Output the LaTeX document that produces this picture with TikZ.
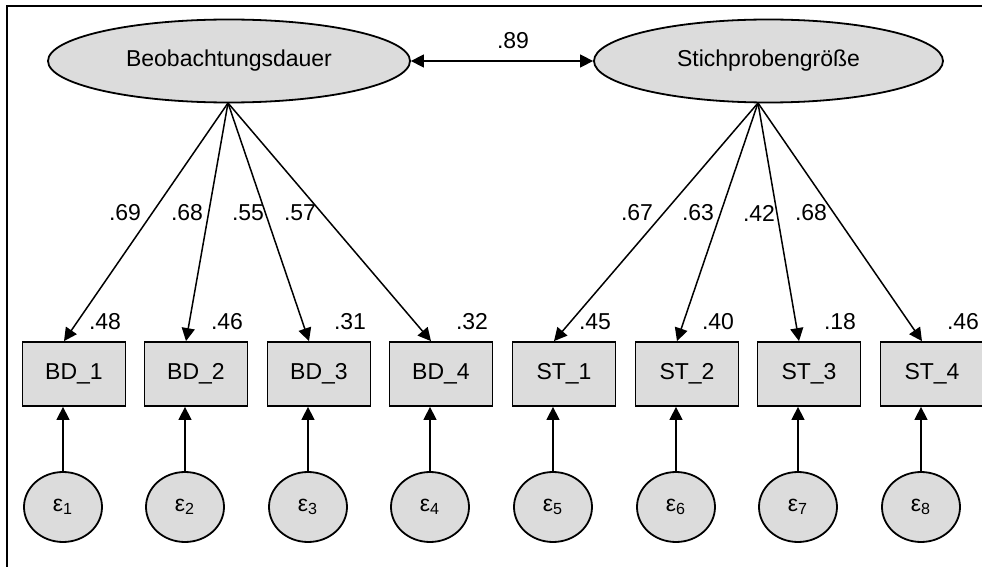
\documentclass[tikz,border=0pt]{standalone}
\usepackage{fontspec}
\setmainfont{Liberation Sans}
\usepackage{tikz}
\usetikzlibrary{arrows.meta,shapes.geometric}
\definecolor{semgray}{HTML}{DCDCDC}
\tikzset{
  latent/.style={ellipse, draw, line width=0.9pt, fill=semgray, inner sep=0pt, minimum height=41.5pt},
  manifest/.style={rectangle, draw, line width=0.9pt, fill=semgray, minimum width=51.5pt, minimum height=32pt, inner sep=0pt},
  errvar/.style={ellipse, draw, line width=0.9pt, fill=semgray, minimum width=39pt, minimum height=35pt, inner sep=0pt},
  coef/.style={inner sep=0pt}
}

\begin{document}
\begin{tikzpicture}[x=0.5pt,y=-0.5pt, font=\fontsize{11.5}{13.5}\selectfont,
    >={Triangle[length=6.5pt,width=6.5pt]}, line width=0.75pt]
  \useasboundingbox (0,0) rectangle (982,567);
  \draw[line width=1pt] (7,580) -- (7,6) -- (995,6);
  % latent variables
  \node[latent, minimum width=181pt] (BD) at (229,61) {Beobachtungsdauer};
  \node[latent, minimum width=174.5pt] (ST) at (768.5,61) {Stichprobengröße};
  \draw[<->] (BD.east) -- (ST.west);
  \node[coef] (r89) at (513,41) {.89};
  \coordinate (BDsrc) at (228,103);
  \coordinate (STsrc) at (758,103);
  % indicators
  \foreach \i/\x/\e/\l/\lx/\r in {1/74/1/.69/125/.48, 2/196/2/.68/187/.46, 3/319/3/.55/248/.31, 4/441/4/.57/300/.32} {
    \node[manifest] (BD\i) at (\x,374) {BD\_\i};
    \node[errvar] (eBD\i) at (\x-11,507) {ε\textsubscript{\e}};
    \draw[->] (BDsrc) -- ([xshift=-5pt]BD\i.north);
    \draw[->] (eBD\i.north) -- (eBD\i.north |- BD\i.south);
    \node[coef] (lBD\i) at (\lx,213) {\l};
    \node[coef] (rBD\i) at (\x+31,322) {\r};
  }
  \foreach \i/\x/\e/\l/\lx/\r in {1/564/5/.67/637/.45, 2/687/6/.63/698/.40, 3/809/7/.42/759/.18, 4/932/8/.68/811/.46} {
    \node[manifest] (ST\i) at (\x,374) {ST\_\i};
    \node[errvar] (eST\i) at (\x-11,507) {ε\textsubscript{\e}};
    \draw[->] (STsrc) -- ([xshift=-5pt]ST\i.north);
    \draw[->] (eST\i.north) -- (eST\i.north |- ST\i.south);
    \node[coef] (lST\i) at (\lx,213) {\l};
    \node[coef] (rST\i) at (\x+31,322) {\r};
  }
\end{tikzpicture}
\end{document}
